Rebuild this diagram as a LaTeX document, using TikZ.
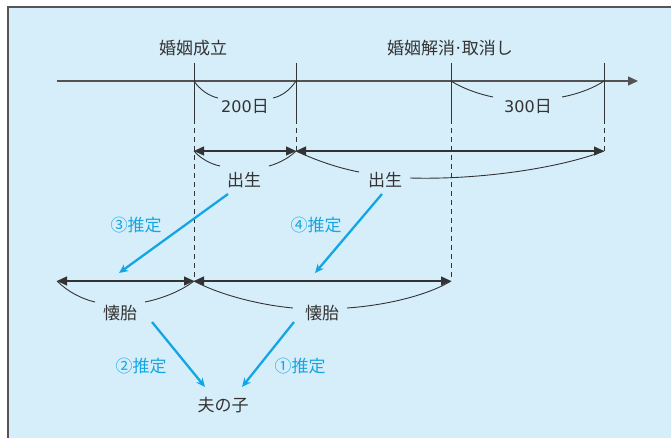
\documentclass[tikz,border=0pt]{standalone}
\usepackage{fontspec}
\setmainfont{Noto Sans CJK JP}
\newfontfamily\digitfont{DejaVu Sans}
\usetikzlibrary{arrows.meta}
\definecolor{bg}{HTML}{D6EEFA}
\definecolor{ink}{HTML}{333333}
\definecolor{frame}{HTML}{555555}
\definecolor{cyanb}{HTML}{14A5E3}
\begin{document}
\begin{tikzpicture}[x=1pt,y=-1pt,
  lbl/.style={text=ink,font=\fontsize{17}{20}\selectfont,inner sep=0pt},
  blbl/.style={text=cyanb,font=\fontsize{17}{20}\selectfont,inner sep=0pt},
  axisline/.style={draw=ink!85,line width=1.3pt,-{Triangle[length=10pt,width=9pt]}},
  tick/.style={draw=ink,line width=0.9pt},
  dashtick/.style={draw=ink,line width=0.9pt,dash pattern=on 5pt off 4pt},
  dimarrow/.style={draw=ink,line width=1.3pt,{Triangle[length=10pt,width=9pt]}-{Triangle[length=10pt,width=9pt]}},
  bracecurve/.style={draw=ink,line width=0.9pt},
  bluearrow/.style={draw=cyanb,line width=2.3pt,-{Stealth[length=9pt,width=8pt]}}]
\useasboundingbox (0,0) rectangle (671,438);
\fill[bg] (8,7) rectangle (671,438);
\draw[frame,line width=1.6pt] (8,438) -- (8,7) -- (671,7);

% timeline
\coordinate (t0) at (57,81);
\coordinate (tend) at (638,81);
\draw[axisline] (t0) -- (tend);

% ticks
\foreach \n/\x in {1/194,2/296,3/451,4/604}{
  \coordinate (top\n) at (\x,63);
  \coordinate (mid\n) at (\x,119);
  \draw[tick] (top\n) -- (mid\n);
}
\coordinate (m1) at (194,81);
\coordinate (m2) at (296,81);
\coordinate (m3) at (451,81);
\coordinate (m4) at (604,81);
\coordinate (a1) at (194,151);
\coordinate (a2) at (296,151);
\coordinate (a4) at (604,151);
\coordinate (b0) at (57,281);
\coordinate (b1) at (194,281);
\coordinate (b3) at (451,281);
\draw[dashtick] (mid1) -- (b1);
\draw[dashtick] (mid2) -- (a2);
\draw[dashtick] (mid3) -- (b3);
\draw[dashtick] (mid4) -- (a4);

% top labels
\node[lbl] (marry) at (193,48) {婚姻成立};
\node[lbl] (divorce) at (450,48) {婚姻解消\kern-0.08em·\kern-0.08em取消し};
\node[lbl] (d200) at (245,107) {{\digitfont\fontsize{16}{20}\selectfont 200}日};
\node[lbl] (d300) at (528,107) {{\digitfont\fontsize{16}{20}\selectfont 300}日};

\draw[bracecurve] (m1) .. controls (200,90) and (209,96) .. (218,98);
\draw[bracecurve] (273,98) .. controls (282,96) and (290,90) .. (m2);
\draw[bracecurve] (m3) .. controls (462,88) and (478,94) .. (493,97);
\draw[bracecurve] (562,97) .. controls (578,94) and (594,88) .. (m4);

% row 2
\draw[dimarrow] (a1) -- (a2);
\draw[dimarrow] (a2) -- (a4);
\node[lbl] (birth1) at (244,180) {出生};
\node[lbl] (birth2) at (385,180) {出生};
\draw[bracecurve] (a1) .. controls (200,158) and (210,164) .. (220,166);
\draw[bracecurve] (269,166) .. controls (280,163) and (290,157) .. (a2);
\draw[bracecurve] (a2) .. controls (315,160) and (338,168) .. (359,172);
\draw[bracecurve] (410,178) .. controls (480,180) and (560,168) .. (a4);

% row 3
\draw[dimarrow] (b0) -- (b1);
\draw[dimarrow] (b1) -- (b3);
\node[lbl] (conc1) at (120,313) {懐胎};
\node[lbl] (conc2) at (322,313) {懐胎};
\draw[bracecurve] (b0) .. controls (68,292) and (82,299) .. (95,302);
\draw[bracecurve] (145,302) .. controls (160,299) and (180,292) .. (b1);
\draw[bracecurve] (b1) .. controls (220,295) and (260,305) .. (293,308);
\draw[bracecurve] (347,308) .. controls (390,305) and (430,294) .. (b3);

% child
\node[lbl] (child) at (223,405) {夫の子};

% blue inference arrows
\coordinate (s3) at (228,194);
\coordinate (e3) at (119,273);
\coordinate (s4) at (382,194);
\coordinate (e4) at (315,273);
\coordinate (s2) at (152,322);
\coordinate (e2) at (205,387);
\coordinate (s1) at (294,322);
\coordinate (e1) at (242,387);
\draw[bluearrow] (s3) -- (e3);
\draw[bluearrow] (s4) -- (e4);
\draw[bluearrow] (s2) -- (e2);
\draw[bluearrow] (s1) -- (e1);
\node[blbl] (inf3) at (136,225) {③推定};
\node[blbl] (inf4) at (316,225) {④推定};
\node[blbl] (inf2) at (141,366) {②推定};
\node[blbl] (inf1) at (300,366) {①推定};
\end{tikzpicture}
\end{document}
